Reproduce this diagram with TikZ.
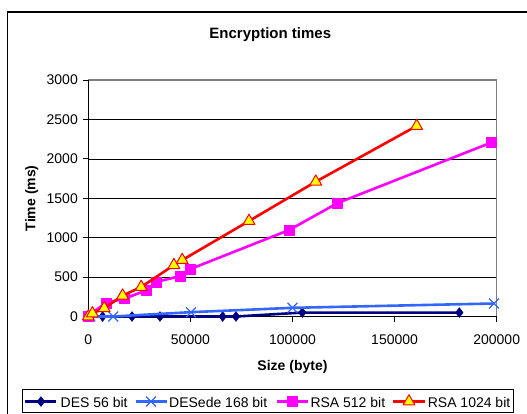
\documentclass[tikz,border=0pt]{standalone}
\usepackage{fontspec}
\setmainfont{Liberation Sans}
\usetikzlibrary{plotmarks}

\definecolor{desnavy}{RGB}{0,0,128}
\definecolor{edeblue}{RGB}{51,102,255}
\definecolor{rsamag}{RGB}{255,0,255}
\definecolor{rsared}{RGB}{255,0,0}
\definecolor{rsayel}{RGB}{255,255,0}

\begin{document}
\begin{tikzpicture}[x=1pt, y=1pt, font=\fontsize{14}{16}\selectfont]
        \tikzset{
            % Define style for the grid lines
            grid line/.style={black, line width=0.8pt},
            % Define style for the plot border and axes
            plot border/.style={gray, line width=1.3pt},
            axis line/.style={black, line width=1pt},
            % Define style for tick labels and axis titles
            ticklab/.style={inner sep=0pt},
            axtitle/.style={font=\fontsize{14}{16}\selectfont\bfseries},
            % Define style for the series lines
            series/.style={line width=2.6pt, line join=round},
            des/.style={series, desnavy, mark=diamond*, mark size=5pt,
                    mark options={solid, fill=desnavy, line width=0.4pt}},
            desede/.style={series, edeblue, mark=x, mark size=7pt,
                    mark options={solid, line width=1.2pt}},
            rsafive/.style={series, rsamag, mark=square*, mark size=5pt,
                    mark options={solid, fill=rsamag, line width=0.4pt}},
            rsaten/.style={series, rsared, mark=triangle*, mark size=6.8pt,
                    mark options={solid, fill=rsayel, draw=rsared, line width=1pt}},
        }
        \useasboundingbox (0,0) rectangle (527,413);
        % Draw the outer frame
        \draw[line width=1.5pt] (7.4,-10) rectangle (545,401);
        % Draw the title
        \node[font=\fontsize{15}{17}\selectfont\bfseries] (title) at (270.3,378.7) {Encryption times};

        \begin{scope}[shift={(88.3pt,96.5pt)}, x=2.042pt, y=0.0788pt]
            % Draw the grid and the axes
            \foreach \v in {500,1000,...,2500}
                \draw[grid line] (0,\v) -- (200,\v);
            \draw[plot border] (0,3000) -- (200,3000) -- (200,0);
            \draw[axis line] (0,3000) -- (0,0) -- (200,0);
            \foreach \v in {0,500,...,3000} {
                \draw[axis line] (0,\v) -- ++(-5pt,0);
                \node[ticklab, anchor=east] (ylab\v) at ([xshift=-10.3pt]0,\v) {\v};
            }
            \foreach \x/\lab in {0/0,50/50000,100/100000,150/150000,200/200000} {
                \draw[axis line] (\x,0) -- ++(0,-5pt);
                \node[ticklab, anchor=base] (xlab\x) at ([yshift=-28.3pt]\x,0) {\lab};
            }
            \node[axtitle, rotate=90] (ytitle) at ([xshift=-56.6pt]0,1500) {Time (ms)};
            \node[axtitle] (xtitle) at ([yshift=-50.5pt]100,0) {Size (byte)};

            % Draw the series
            \draw[des] plot coordinates {(0,0) (7,0) (21.4,0) (35.1,0) (65.8,0) (72.3,0) (104.8,50) (181.7,50)};
            \draw[desede] plot coordinates {(1,0) (12.2,0) (50.3,55) (100,110) (198.7,165)};
            \draw[rsafive] plot coordinates {(0,10) (8.6,174) (17.7,226) (28.4,332) (33.3,439) (44.8,511) (49.8,600) (98.4,1098) (122.1,1440) (197.2,2206)};
            \draw[rsaten] plot coordinates {(0,0) (2,40) (7.8,105) (16.8,265) (25.9,374) (41.9,652) (46,716) (78.7,1212) (111.4,1711) (160.8,2418)};
        \end{scope}

        % Draw the legend
        \draw[black, line width=0.8pt] (22.6,1) rectangle (513,23.5);
        \draw[des, line width=2.2pt, mark indices={2}] plot coordinates {(25.2,11.5) (41,11.5) (56,11.5)};
        \node[anchor=west, inner sep=0pt] (leg1) at (60.5,11) {DES 56 bit};
        \draw[desede, line width=2.2pt, mark indices={2}] plot coordinates {(136,11.5) (151,11.5) (166.5,11.5)};
        \node[anchor=west, inner sep=0pt] (leg2) at (169,11) {DESede 168 bit};
        \draw[rsafive, line width=2.2pt, mark indices={2}] plot coordinates {(277,11.5) (292.5,11.5) (308,11.5)};
        \node[anchor=west, inner sep=0pt] (leg3) at (310.3,11) {RSA 512 bit};
        \draw[rsaten, line width=2.2pt, mark indices={2}] plot coordinates {(393,11.5) (409,11.5) (425,11.5)};
        \node[anchor=west, inner sep=0pt] (leg4) at (427.6,11) {RSA 1024 bit};
    \end{tikzpicture}
\end{document}
